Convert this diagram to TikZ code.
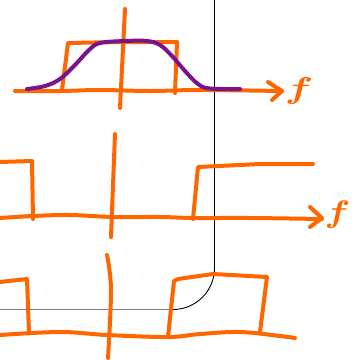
\documentclass[tikz,border=0pt]{standalone}
\begin{document}
\begin{tikzpicture}[x=1pt,y=-1pt,
  pen/.style={draw=myorange, line width=4pt, line cap=round, line join=round},
  ppen/.style={draw=mypurple, line width=4pt, line cap=round, line join=round},
  flabel/.style={text=myorange, inner sep=0pt}]
\definecolor{myorange}{RGB}{255,102,0}
\definecolor{mypurple}{RGB}{120,20,140}
\useasboundingbox (0,0) rectangle (359,360);
\fill[white] (0,0) rectangle (359,360);
% black frame line
\coordinate (bt) at (214.5,0);
\coordinate (bc) at (214.5,268);
\coordinate (bh) at (173,309.5);
\coordinate (bl) at (0,309.5);
\draw[black, line width=0.9pt] (bt) -- (bc) arc[start angle=0, end angle=90, radius=41.5];
\draw[gray, line width=1.4pt] (bh) -- (bl);
% ---------- top panel ----------
\draw[pen] plot[smooth, tension=0.6] coordinates {(15,91) (60,91) (100,90) (150,91) (200,90) (282,91)};
\draw[pen] (268,82) -- (282,91) -- (272,100);
\draw[pen] (125,9) -- (120,108);
\draw[pen] (62,90) -- (68,43) -- (120,42) -- (177,42) -- (175,93);
\draw[ppen] plot[smooth, tension=0.6] coordinates {(27,89) (45,86) (60,79) (75,65) (89,50) (100,43) (125,41) (147,41) (160,45) (172,56) (185,71) (198,84) (210,88.5) (240,89)};
\node[flabel] (f1) at (299,90.5) {\scalebox{4.2}[3.0]{\boldmath$f$}};
% ---------- middle panel ----------
\draw[pen] plot[smooth, tension=0.6] coordinates {(0,218) (33,216) (70,215) (113,217) (160,217) (194,218) (250,218) (322,219)};
\draw[pen] (310,207) -- (322,218) -- (310,227);
\draw[pen] (115,134) -- (111,237);
\draw[pen] (0,162) -- (32,161) -- (33,219);
\draw[pen] (193,219) -- (198,167) -- (260,164) -- (313,164);
\node[flabel] (f2) at (337.5,214.5) {\scalebox{3.8}[3.1]{\boldmath$f$}};
% ---------- bottom panel ----------
\draw[pen] plot[smooth, tension=0.6] coordinates {(0,335) (60,332) (107,335) (168,337) (200,334) (240,332) (280,336) (295,338)};
\draw[pen] plot[smooth, tension=0.6] coordinates {(107,255) (111,290) (108,358)};
\draw[pen] (0,282) -- (27,279) -- (29,333);
\draw[pen] (168,337) -- (174,281) -- (178,279) -- (213,274) -- (267,277) -- (260,332);
\end{tikzpicture}
\end{document}
